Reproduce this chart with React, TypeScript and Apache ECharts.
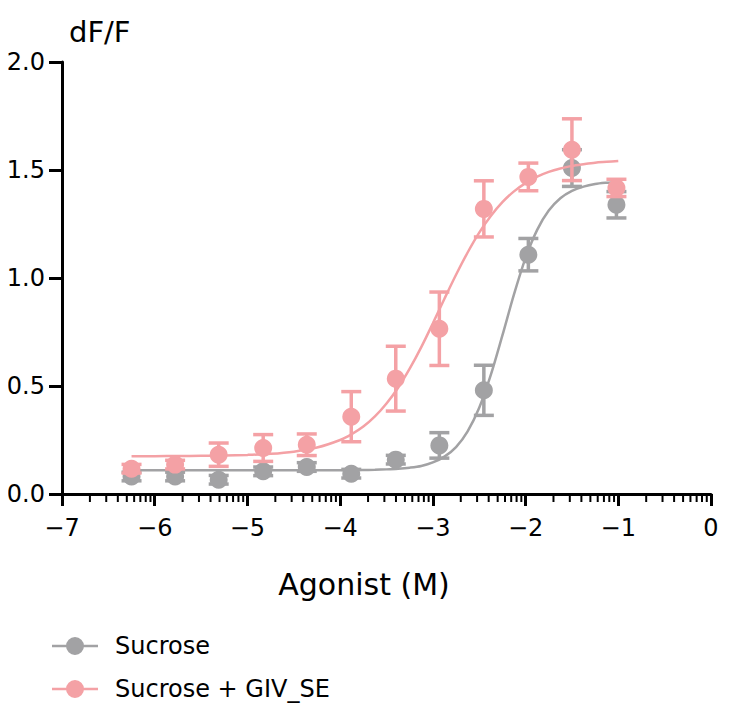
import React, { useEffect, useRef } from "react";
import * as echarts from "echarts";

// log10 molar agonist concentrations (3-fold dilution series)
const concentrations = [-6.25, -5.78, -5.31, -4.83, -4.36, -3.88, -3.4, -2.93, -2.45, -1.97, -1.5, -1.02];

// Sucrose: mean dF/F and SEM
const sucroseMean = [0.081, 0.081, 0.066, 0.105, 0.125, 0.094, 0.159, 0.225, 0.48, 1.108, 1.509, 1.339];
const sucroseSem = [0.02, 0.02, 0.02, 0.02, 0.02, 0.02, 0.02, 0.059, 0.116, 0.075, 0.085, 0.061];

// Sucrose + GIV_SE: mean dF/F and SEM
const givMean = [0.117, 0.136, 0.182, 0.213, 0.228, 0.358, 0.534, 0.765, 1.32, 1.468, 1.594, 1.417];
const givSem = [0.02, 0.02, 0.054, 0.062, 0.05, 0.116, 0.15, 0.17, 0.13, 0.064, 0.143, 0.04];

// fitted dose-response curves
const fitX = [
  -6.25, -6.0, -5.75, -5.5, -5.25, -5.0, -4.75, -4.5, -4.25, -4.0,
  -3.875, -3.75, -3.625, -3.5, -3.375, -3.25, -3.125, -3.0, -2.875, -2.75,
  -2.625, -2.5, -2.375, -2.25, -2.125, -2.0, -1.875, -1.75, -1.625, -1.5,
  -1.375, -1.25, -1.125, -1.0,
];
const sucroseFit = [
  0.11, 0.11, 0.11, 0.11, 0.11, 0.11, 0.11, 0.11, 0.11, 0.11,
  0.111, 0.111, 0.112, 0.114, 0.117, 0.122, 0.13, 0.146, 0.173, 0.217,
  0.29, 0.399, 0.551, 0.734, 0.924, 1.093, 1.223, 1.312, 1.369, 1.403,
  1.423, 1.435, 1.441, 1.445,
];
const givFit = [
  0.175, 0.175, 0.176, 0.177, 0.178, 0.181, 0.186, 0.196, 0.215, 0.25,
  0.277, 0.312, 0.359, 0.419, 0.492, 0.58, 0.68, 0.79, 0.904, 1.015,
  1.118, 1.21, 1.287, 1.351, 1.401, 1.439, 1.469, 1.491, 1.507, 1.519,
  1.527, 1.534, 1.538, 1.542,
];

// axis ticks
const xMajorTicks = [-7, -6, -5, -4, -3, -2, -1, 0];
const minorTickMultipliers = [2, 3, 4, 5, 6, 7, 8, 9];

const seriesNames = ["Sucrose", "Sucrose + GIV_SE"];
const GRAY = "#a2a2a4";
const PINK = "#f4a1a5";
const FONT = "'DejaVu Sans', 'Noto Sans', sans-serif";

const legendIcon = "path://M0,7.75H46V10.25H0Z M14,9A9,9 0 1,1 32,9A9,9 0 1,1 14,9Z";

function errorBarSeries(means: number[], sems: number[], color: string) {
  return {
    type: "custom",
    clip: false,
    z: 3,
    encode: { x: 0, y: [1, 2] },
    data: concentrations.map((x, i) => [x, means[i] - sems[i], means[i] + sems[i]]),
    renderItem: (params: any, api: any) => {
      const x = api.value(0);
      const pLo = api.coord([x, api.value(1)]);
      const pHi = api.coord([x, api.value(2)]);
      const half = 10;
      const style = { stroke: color, lineWidth: 3.5 };
      return {
        type: "group",
        children: [
          { type: "line", shape: { x1: pLo[0], y1: pLo[1], x2: pHi[0], y2: pHi[1] }, style },
          { type: "line", shape: { x1: pLo[0] - half, y1: pLo[1], x2: pLo[0] + half, y2: pLo[1] }, style },
          { type: "line", shape: { x1: pHi[0] - half, y1: pHi[1], x2: pHi[0] + half, y2: pHi[1] }, style },
        ],
      };
    },
  };
}

export default function App() {
  const ref = useRef<HTMLDivElement>(null);
  useEffect(() => {
    if (!ref.current) return;
    const chart = echarts.init(ref.current, null, { renderer: "svg" });

    const minorTicks: number[][] = [];
    xMajorTicks.slice(0, -1).forEach((d) => {
      minorTickMultipliers.forEach((k) => minorTicks.push([d + Math.log10(k), 0]));
    });

    const option: any = {
      animation: false,
      backgroundColor: "#fff",
      grid: { left: 62, right: 18, top: 62, bottom: 222, containLabel: false },
      xAxis: {
        type: "value",
        min: -7,
        max: 0,
        interval: 1,
        splitLine: { show: false },
        axisLine: { onZero: false, lineStyle: { color: "#000", width: 3 } },
        axisTick: { length: 12, lineStyle: { color: "#000", width: 3 } },
        axisLabel: {
          margin: 22,
          fontSize: 24,
          color: "#000",
          fontFamily: FONT,
          formatter: (v: number) => (v < 0 ? "\u2212" + Math.abs(v) : String(v)),
        },
      },
      yAxis: {
        type: "value",
        min: 0,
        max: 2,
        interval: 0.5,
        splitLine: { show: false },
        axisLine: { show: true, onZero: false, lineStyle: { color: "#000", width: 3 } },
        axisTick: { show: true, length: 13, lineStyle: { color: "#000", width: 3 } },
        axisLabel: {
          margin: 17,
          fontSize: 24,
          color: "#000",
          fontFamily: FONT,
          formatter: (v: number) => v.toFixed(1),
        },
      },
      legend: {
        orient: "vertical",
        left: 52,
        top: 634,
        padding: 0,
        itemWidth: 46,
        itemHeight: 18,
        itemGap: 19,
        textStyle: { fontSize: 24, color: "#000", fontFamily: FONT, padding: [0, 0, 0, 12] },
        data: [
          { name: seriesNames[0], icon: legendIcon, itemStyle: { color: GRAY } },
          { name: seriesNames[1], icon: legendIcon, itemStyle: { color: PINK } },
        ],
      },
      graphic: [
        {
          type: "text",
          left: 69,
          top: 17,
          style: { text: "dF/F", fontSize: 29, fill: "#000", fontFamily: FONT },
        },
        {
          type: "text",
          x: 364,
          y: 584,
          style: {
            text: "Agonist (M)",
            fontSize: 30,
            fill: "#000",
            fontFamily: FONT,
            align: "center",
            verticalAlign: "middle",
          },
        },
      ],
      series: [
        {
          type: "custom",
          clip: false,
          silent: true,
          z: 1,
          data: minorTicks,
          encode: { x: 0, y: 1 },
          renderItem: (params: any, api: any) => {
            const p = api.coord([api.value(0), 0]);
            return {
              type: "line",
              shape: { x1: p[0], y1: p[1], x2: p[0], y2: p[1] + 8 },
              style: { stroke: "#000", lineWidth: 2 },
            };
          },
        },
        {
          name: seriesNames[0],
          type: "line",
          data: fitX.map((x, i) => [x, sucroseFit[i]]),
          showSymbol: false,
          smooth: 0.3,
          lineStyle: { color: GRAY, width: 2.5 },
          itemStyle: { color: GRAY },
          z: 2,
        },
        errorBarSeries(sucroseMean, sucroseSem, GRAY),
        {
          name: seriesNames[0],
          type: "scatter",
          data: concentrations.map((x, i) => [x, sucroseMean[i]]),
          symbol: "circle",
          symbolSize: 18,
          itemStyle: { color: GRAY, opacity: 1 },
          z: 4,
        },
        {
          name: seriesNames[1],
          type: "line",
          data: fitX.map((x, i) => [x, givFit[i]]),
          showSymbol: false,
          smooth: 0.3,
          lineStyle: { color: PINK, width: 2.5 },
          itemStyle: { color: PINK },
          z: 5,
        },
        { ...errorBarSeries(givMean, givSem, PINK), z: 6 },
        {
          name: seriesNames[1],
          type: "scatter",
          data: concentrations.map((x, i) => [x, givMean[i]]),
          symbol: "circle",
          symbolSize: 18,
          itemStyle: { color: PINK, opacity: 1 },
          z: 7,
        },
      ],
    };
    chart.setOption(option);
    return () => chart.dispose();
  }, []);
  return <div ref={ref} style={{ width: 729, height: 716, margin: -8 }} />;
}
